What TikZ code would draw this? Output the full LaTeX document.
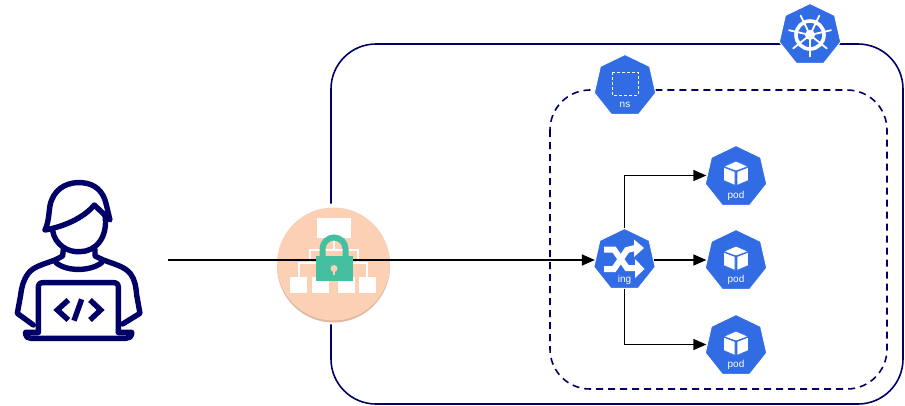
\documentclass[tikz,border=0pt]{standalone}
\usepackage{fontspec}
\setmainfont{Liberation Sans}
\usepackage{xcolor}
\usetikzlibrary{arrows.meta, shapes.geometric, positioning}
\definecolor{navy}{HTML}{000066}
\definecolor{kubeblue}{HTML}{326CE5}
\definecolor{peach}{HTML}{FCD0B4}
\definecolor{peachdark}{HTML}{DDB8A2}
\definecolor{lockgreen}{HTML}{44BFA0}
\tikzset{
  kube/.style={regular polygon, regular polygon sides=7, fill=kubeblue, draw=white, line width=1pt, minimum size=63pt, inner sep=0pt},
  kubelabel/.style={text=white, font=\fontsize{10}{10}\selectfont, inner sep=0pt},
  flow/.style={draw=black, line width=1.4pt, -{Triangle[length=13pt,width=11pt]}},
  cube/.pic={
    \draw[fill=white, draw=kubeblue, line width=.8pt, line join=round] (-12.5,-9.5) -- (0,-15) -- (12.5,-9.5) -- (0,-5) -- cycle;
    \draw[fill=white, draw=kubeblue, line width=.8pt, line join=round] (-12.5,-9) -- (-1,-4.5) -- (-1,9.5) -- (-12.5,4.5) -- cycle;
    \draw[fill=white, draw=kubeblue, line width=.8pt, line join=round] (12.5,-9) -- (1,-4.5) -- (1,9.5) -- (12.5,4.5) -- cycle;
  }
}
\begin{document}
\begin{tikzpicture}
[x=1pt, y=-1pt]
\useasboundingbox (0,0) rectangle (905,405);

% cluster and namespace
\draw[navy, line width=1.6pt, rounded corners=45pt] (331,44) rectangle (903,404);
\draw[navy, line width=1.6pt, dashed, dash pattern=on 7pt off 5pt, rounded corners=40pt] (550,90) rectangle (887,389);

% gateway
\fill[white] (334,264) circle (60.5);
\fill[peachdark] (333.5,266) circle (56.5);
\node[circle, fill=peach, minimum size=113pt, inner sep=0pt] (gw) at (333.5,264) {};
\fill[white] (316.7,218.3) rectangle (350.7,237.7);
\foreach \x/\y in {290.3/307.3, 312/328.7, 338/354.7, 359.3/376}
  \fill[white] (\x,276.7) rectangle (\y,292.7);
\draw[white, line width=2pt] (333.5,237) -- (333.5,250) (310,263) -- (310,250) -- (358,250) -- (358,263);
\draw[white, line width=2pt] (298.5,277) -- (298.5,263) -- (367,263) -- (367,277) (320,263) -- (320,277) (346,263) -- (346,277);

% k8s nodes
\node[kube] (k8s) at (810,35) {};
\node[kube] (ns) at (625,86) {};
\node[kube] (ing) at (624.5,260) {};
\node[kube] (pod1) at (736,177) {};
\node[kube] (pod2) at (736,261) {};
\node[kube] (pod3) at (736,346) {};

\node[kubelabel] (nslabel) at (625,105) {ns};
\node[kubelabel] (inglabel) at (624.5,280) {ing};
\node[kubelabel] (pod1label) at (736,196) {pod};
\node[kubelabel] (pod2label) at (736,280) {pod};
\node[kubelabel] (pod3label) at (736,365) {pod};

% icons
\draw[white, line width=1pt, densely dashed] (612,72) rectangle (638,95);
\pic at (736,176) {cube};
\pic at (736,261) {cube};
\pic at (736,346) {cube};

% wheel
\draw[white, line width=3.6pt] (k8s.center) circle (14);
\fill[white] (k8s.center) circle (5);
\fill[kubeblue] (k8s.center) circle (2);
\foreach \a in {90, 141.43, 192.86, 244.29, 295.71, 347.14, 38.57}
  \draw[white, line width=1.8pt, line cap=round] (k8s.center) -- +(\a:21.5);

% shuffle
\draw[white, line width=6pt] (604,249.5) -- (614,249.5) -- (627,268) -- (636,268);
\fill[white] (635,259) -- (644.5,269) -- (635,278) -- cycle;
\draw[white, line width=6pt] (604,269) -- (614,269) -- (627,250) -- (635,248);
\fill[white] (634,239.5) -- (644,248) -- (634,257) -- cycle;

% connectors
\coordinate (devout) at (168,260);
\draw[flow] (devout) -- (ing.west |- devout);
\draw[flow] (ing.east |- devout) -- (pod2.west |- devout);
\draw[flow] (ing.north) |- ([yshift=1.5pt]pod1.west);
\draw[flow] (ing.south) |- ([yshift=1.5pt]pod3.west);

% lock
\draw[lockgreen, line width=6pt] (322.5,258) -- (322.5,249) arc[start angle=180, end angle=360, radius=11.5] -- (345.5,258);
\fill[lockgreen] (316,256) rectangle (352.7,281);
\fill[peach] (334,268.5) circle (3.5);
\draw[peach, line width=2pt] (334,268.5) -- (334,275);

% developer
\begin{scope}[shift={(0,170)}, x=.3333pt, y=-.3333pt, navy, line width=5.4pt, line join=round, line cap=round]
\draw (135,180) .. controls (150,150) and (145,110) .. (155,90) .. controls (170,50) and (210,35) .. (245,38) .. controls (285,40) and (310,65) .. (318,100) -- (330,150) -- (283,105) .. controls (250,145) and (190,170) .. (135,180);
\draw (158,182) .. controls (165,225) and (205,248) .. (240,245) .. controls (285,245) and (325,205) .. (315,135);
\draw (190,238) -- (188,258) -- (165,270) .. controls (130,283) and (100,290) .. (85,310) .. controls (70,330) and (65,350) .. (62,375) -- (52,430) -- (100,465);
\draw (285,238) -- (285,258) -- (310,270) .. controls (345,283) and (375,290) .. (392,312) .. controls (405,330) and (408,350) .. (410,375) -- (420,430) -- (368,462);
\draw (168,278) .. controls (200,305) and (270,305) .. (305,278);
\draw (115,487) -- (115,352) .. controls (115,342) and (120,338) .. (130,338) -- (340,338) .. controls (350,338) and (355,342) .. (355,352) -- (355,487);
\draw (115,487) -- (77,487) -- (77,493) .. controls (77,500) and (83,505) .. (92,505) -- (378,505) .. controls (387,505) and (395,500) .. (395,493) -- (395,487) -- (355,487);
\draw[line cap=butt, line join=miter] (205,390) -- (172,420) -- (205,450);
\draw[line cap=butt] (245,388) -- (222,452);
\draw[line cap=butt, line join=miter] (270,390) -- (302,420) -- (270,450);
\end{scope}

\end{tikzpicture}
\end{document}
